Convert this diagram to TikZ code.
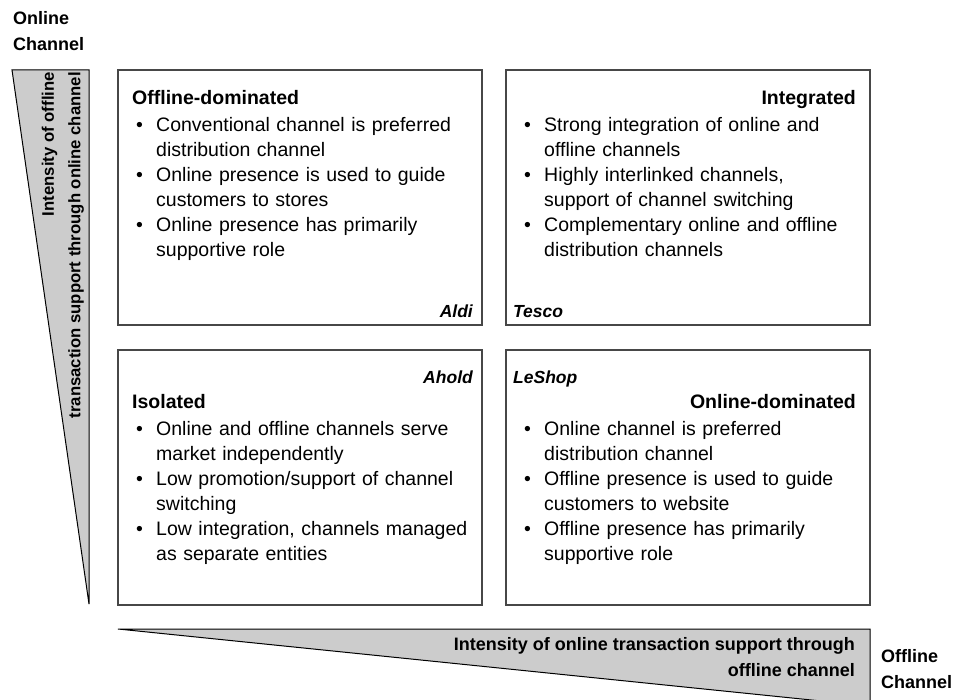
\documentclass[tikz,border=0pt]{standalone}
\usepackage{fontspec}
\setmainfont{Liberation Sans}
\usetikzlibrary{positioning}
\definecolor{framegray}{HTML}{474747}
\definecolor{wedgegray}{HTML}{CCCCCC}
\newcommand{\bitem}[1]{\hangindent=24pt\hangafter=1\noindent\makebox[24pt][l]{\hspace{4pt}\textbullet}#1\par}

\begin{document}
\begin{tikzpicture}[
  x=1pt, y=-1pt,
  every node/.style={inner sep=0pt},
  quad/.style={draw=framegray, line width=1.4pt, minimum width=364pt, minimum height=255pt},
  wedge/.style={draw=black, line width=1pt, fill=wedgegray},
  ttl/.style={font=\fontsize{19.5}{25}\selectfont\bfseries},
  txt/.style={font=\fontsize{19.5}{25}\selectfont, text width=340pt, align=left, anchor=base west},
  firm/.style={font=\fontsize{17.5}{22}\selectfont\bfseries\itshape},
  axis/.style={font=\fontsize{18}{25.5}\selectfont\bfseries}
]
\clip (0,0) rectangle (954,700);

% Wedges along the two axes
\draw[wedge] (12,70) -- (89,70) -- (89,604) -- cycle;
\draw[wedge] (118,629) -- (870,629) -- (870,706) -- cycle;
\node[axis, font=\fontsize{16.7}{26.5}\selectfont\bfseries, rotate=90, align=right, anchor=south east] (vlabel) at (84,72) {Intensity of offline\\transaction support through online channel};
\node[axis, align=right, anchor=east] (hlabel) at (855,657) {Intensity of online transaction support through\\offline channel};

% Axis names
\node[axis, align=left, anchor=west] (online) at (13,31) {Online\\Channel};
\node[axis, align=left, anchor=west] (offline) at (881,669) {Offline\\Channel};

% Quadrants
\node[quad] (offdom) at (300,197.5) {};
\node[quad] (integ) at (688,197.5) {};
\node[quad] (isol) at (300,477.5) {};
\node[quad] (ondom) at (688,477.5) {};

% Top left
\node[ttl, anchor=base west] (offdomT) at (132,105) {Offline-dominated};
\node[txt] (offdomL) at (132,131.7) {%
\bitem{Conventional channel is preferred\newline distribution channel}
\bitem{Online presence is used to guide\newline customers to stores}
\bitem{Online presence has primarily\newline supportive role}};
\node[firm, anchor=base east] (aldi) at (473,318) {Aldi};

% Top right
\node[ttl, anchor=base east] (integT) at (856,105) {Integrated};
\node[txt] (integL) at (520,131.7) {%
\bitem{Strong integration of online and\newline offline channels}
\bitem{Highly interlinked channels,\newline support of channel switching}
\bitem{Complementary online and offline\newline distribution channels}};
\node[firm, anchor=base west] (tesco) at (513,318) {Tesco};

% Bottom left
\node[firm, anchor=base east] (ahold) at (473,384) {Ahold};
\node[ttl, anchor=base west] (isolT) at (132,409) {Isolated};
\node[txt] (isolL) at (132,435.5) {%
\bitem{Online and offline channels serve\newline market independently}
\bitem{Low promotion/support of channel\newline switching}
\bitem{Low integration, channels managed\newline as separate entities}};

% Bottom right
\node[firm, anchor=base west] (leshop) at (513,384) {LeShop};
\node[ttl, anchor=base east] (ondomT) at (856,409) {Online-dominated};
\node[txt] (ondomL) at (520,435.5) {%
\bitem{Online channel is preferred\newline distribution channel}
\bitem{Offline presence is used to guide\newline customers to website}
\bitem{Offline presence has primarily\newline supportive role}};

\end{tikzpicture}
\end{document}
